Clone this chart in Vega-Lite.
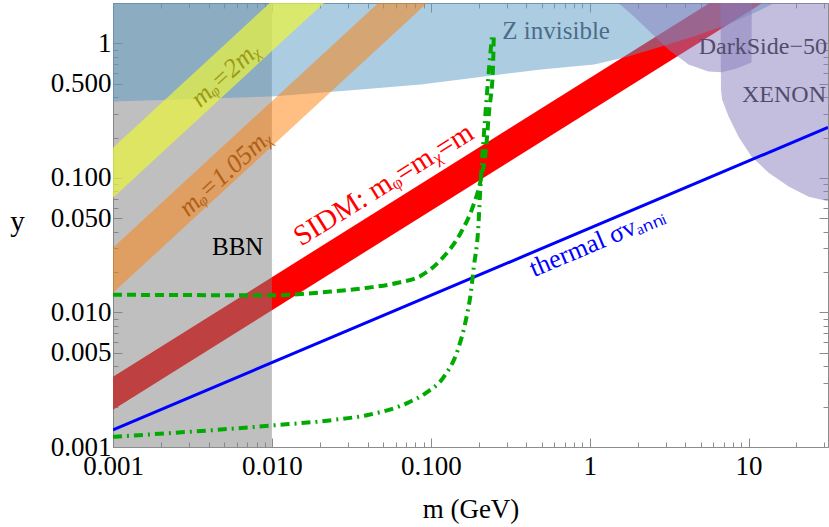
{
  "$schema": "https://vega.github.io/schema/vega-lite/v6.json",
  "width": 715,
  "height": 444,
  "autosize": {"type": "none"},
  "padding": {"left": 113, "top": 3, "right": 1, "bottom": 80},
  "background": "white",
  "config": {
    "view": {"stroke": "#8c8c8c", "strokeWidth": 1},
    "font": "Liberation Serif"
  },
  "datasets": {
    "red": [{"m": 0.001, "lo": 0.00189, "hi": 0.00333}, {"m": 31.6, "lo": 4.04, "hi": 7.12}],
    "orange": [{"m": 0.001, "lo": 0.014, "hi": 0.0303}, {"m": 1, "lo": 26.1, "hi": 56.4}],
    "yellow": [{"m": 0.001, "lo": 0.0714, "hi": 0.168}, {"m": 0.1, "lo": 10.8, "hi": 25.4}],
    "thermal": [{"m": 0.001, "y": 0.00134}, {"m": 31.6, "y": 0.238}],
    "bbn": [{"m_min": 0.001, "m_max": 0.01}],
    "zinv": [
      {"m": 0.001, "y": 0.371}, {"m": 0.01, "y": 0.404}, {"m": 0.0361, "y": 0.455},
      {"m": 0.0865, "y": 0.495}, {"m": 0.494, "y": 0.641}, {"m": 1.067, "y": 0.698},
      {"m": 1.75, "y": 0.8}, {"m": 2.83, "y": 0.95}, {"m": 4.56, "y": 1.13},
      {"m": 7.48, "y": 1.39}, {"m": 12.08, "y": 1.79}, {"m": 14.6, "y": 2.0}
    ],
    "detect": [
      {"name": "DarkSide", "m": 1.513, "y": 2.0}, {"name": "DarkSide", "m": 1.6, "y": 1.89},
      {"name": "DarkSide", "m": 1.83, "y": 1.65}, {"name": "DarkSide", "m": 2.21, "y": 1.34},
      {"name": "DarkSide", "m": 3.13, "y": 0.904}, {"name": "DarkSide", "m": 4.18, "y": 0.698},
      {"name": "DarkSide", "m": 5.59, "y": 0.619}, {"name": "DarkSide", "m": 6.76, "y": 0.61},
      {"name": "DarkSide", "m": 8.4, "y": 0.653}, {"name": "DarkSide", "m": 10.44, "y": 0.722},
      {"name": "DarkSide", "m": 10.47, "y": 2.0},
      {"name": "XENON", "m": 6.66, "y": 2.0}, {"name": "XENON", "m": 6.7, "y": 0.455},
      {"name": "XENON", "m": 6.81, "y": 0.384}, {"name": "XENON", "m": 7.48, "y": 0.286},
      {"name": "XENON", "m": 8.65, "y": 0.203}, {"name": "XENON", "m": 10.44, "y": 0.144},
      {"name": "XENON", "m": 13.37, "y": 0.1096}, {"name": "XENON", "m": 17.87, "y": 0.0863},
      {"name": "XENON", "m": 23.9, "y": 0.0726}, {"name": "XENON", "m": 32.4, "y": 0.0667}
    ],
    "dashed": [
      {"m": 0.001, "y": 0.01355}, {"m": 0.01, "y": 0.01343}, {"m": 0.0234, "y": 0.01432},
      {"m": 0.0401, "y": 0.01528}, {"m": 0.062, "y": 0.01663}, {"m": 0.0865, "y": 0.01875},
      {"m": 0.1156, "y": 0.02466}, {"m": 0.1545, "y": 0.0392}, {"m": 0.184, "y": 0.0612},
      {"m": 0.2065, "y": 0.0973}, {"m": 0.2223, "y": 0.1626}, {"m": 0.2323, "y": 0.307},
      {"m": 0.246, "y": 0.641}, {"m": 0.249, "y": 1.13}
    ],
    "dashdot": [
      {"m": 0.001, "y": 0.00119}, {"m": 0.01, "y": 0.001445}, {"m": 0.0244, "y": 0.00159},
      {"m": 0.0401, "y": 0.00173}, {"m": 0.0716, "y": 0.00213}, {"m": 0.0929, "y": 0.00252},
      {"m": 0.1208, "y": 0.00332}, {"m": 0.1479, "y": 0.00527}, {"m": 0.1664, "y": 0.00883},
      {"m": 0.1786, "y": 0.01403}, {"m": 0.1866, "y": 0.0219}, {"m": 0.198, "y": 0.0392},
      {"m": 0.2065, "y": 0.0973}, {"m": 0.2193, "y": 0.272}, {"m": 0.2323, "y": 0.641},
      {"m": 0.2427, "y": 1.13}
    ],
    "labels": [
      {"id": "zinv", "text": "Z invisible", "m": 0.615, "y": 1.23},
      {"id": "det", "text": "DarkSide−50", "m": 12.3, "y": 0.935},
      {"id": "det", "text": "XENON", "m": 16.7, "y": 0.411},
      {"id": "bbn", "text": "BBN", "m": 0.00609, "y": 0.0308},
      {"id": "sidm", "text": "SIDM: mᵩ=mᵪ=m", "m": 0.0504, "y": 0.0893},
      {"id": "y2", "text": "mᵩ=2mᵪ", "m": 0.0051, "y": 0.589},
      {"id": "o105", "text": "mᵩ=1.05mᵪ", "m": 0.0051, "y": 0.1096},
      {"id": "th", "text": "thermal σvₐₙₙᵢ", "m": 1.115, "y": 0.0336}
    ]
  },
  "layer": [
    {
      "data": {"name": "red"},
      "mark": {"type": "area", "color": "#ff0000", "clip": true},
      "encoding": {
        "x": {
          "field": "m", "type": "quantitative",
          "scale": {"type": "log", "domain": [0.001, 31.6], "nice": false},
          "axis": {
            "orient": "bottom",
            "values": [0.001,0.01,0.1,1,10],
            "labelExpr": "datum.value < 1 ? format(datum.value, '.3f') : format(datum.value, 'd')",
            "domain": false, "grid": false,
            "tickOpacity": 0, "tickSize": -5,
            "labelFont": "Liberation Serif", "labelFontSize": 27, "labelColor": "#000000",
            "labelPadding": 11, "labelFlush": false, "labelOverlap": false, "labelBound": false,
            "title": "m (GeV)", "titleFont": "Liberation Serif", "titleFontSize": 27,
            "titleFontWeight": "normal", "titleColor": "#000000", "titleY": 70, "titleBaseline": "alphabetic"
          }
        },
        "y": {
          "field": "lo", "type": "quantitative",
          "scale": {"type": "log", "domain": [0.001, 2], "nice": false},
          "axis": {
            "orient": "left",
            "values": [0.001,0.005,0.01,0.05,0.1,0.5,1],
            "labelExpr": "datum.value < 1 ? format(datum.value, '.3f') : format(datum.value, 'd')",
            "domain": false, "grid": false,
            "tickOpacity": 0, "tickSize": -5,
            "labelFont": "Liberation Serif", "labelFontSize": 27, "labelColor": "#000000",
            "labelPadding": 7, "labelFlush": false, "labelOverlap": false, "labelBound": false,
            "title": "y", "titleFont": "Liberation Serif", "titleFontSize": 29,
            "titleFontWeight": "normal", "titleColor": "#000000", "titleAngle": 0,
            "titleX": -96, "titleY": 227, "titleAlign": "center", "titleBaseline": "alphabetic"
          }
        },
        "y2": {"field": "hi"}
      }
    },
    {
      "data": {"name": "bbn"},
      "mark": {"type": "rect", "color": "#7f7f7f", "opacity": 0.5, "clip": true},
      "encoding": {
        "x": {
          "field": "m_min", "type": "quantitative",
          "scale": {"type": "log", "domain": [0.001, 31.6], "nice": false},
          "axis": {"orient": "top", "values": [0.001,0.01,0.1,1,10], "labels": false, "domain": false, "grid": false, "title": null, "tickColor": "#8c8c8c", "tickSize": -9}
        },
        "x2": {"field": "m_max"},
        "y": {
          "datum": 0.001, "type": "quantitative",
          "scale": {"type": "log", "domain": [0.001, 2], "nice": false},
          "axis": {"orient": "right", "values": [0.001,0.005,0.01,0.05,0.1,0.5,1], "labels": false, "domain": false, "grid": false, "title": null, "tickColor": "#8c8c8c", "tickSize": -9}
        },
        "y2": {"datum": 2}
      }
    },
    {
      "data": {"name": "zinv"},
      "mark": {"type": "area", "color": "#5999c5", "opacity": 0.5, "clip": true},
      "encoding": {
        "x": {
          "field": "m", "type": "quantitative", "scale": {"type": "log", "domain": [0.001, 31.6], "nice": false},
          "axis": {"orient": "top", "values": [0.002,0.003,0.004,0.005,0.006,0.007,0.008,0.009,0.02,0.03,0.04,0.05,0.06,0.07,0.08,0.09,0.2,0.3,0.4,0.5,0.6,0.7,0.8,0.9,2,3,4,5,6,7,8,9,20,30], "labels": false, "domain": false, "grid": false, "title": null, "tickColor": "#8c8c8c", "tickSize": -5}
        },
        "y": {
          "field": "y", "type": "quantitative", "scale": {"type": "log", "domain": [0.001, 2], "nice": false},
          "axis": {"orient": "right", "values": [0.002,0.003,0.004,0.006,0.007,0.008,0.009,0.02,0.03,0.04,0.06,0.07,0.08,0.09,0.2,0.3,0.4,0.6,0.7,0.8,0.9,2], "labels": false, "domain": false, "grid": false, "title": null, "tickColor": "#8c8c8c", "tickSize": -5}
        },
        "y2": {"datum": 2}
      }
    },
    {
      "data": {"name": "detect"},
      "mark": {"type": "area", "color": "#877dbb", "opacity": 0.5, "clip": true},
      "encoding": {
        "detail": {"field": "name"},
        "x": {
          "field": "m", "type": "quantitative", "scale": {"type": "log", "domain": [0.001, 31.6], "nice": false},
          "axis": {"orient": "bottom", "values": [0.001,0.01,0.1,1,10], "labels": false, "domain": false, "grid": false, "title": null, "tickColor": "#8c8c8c", "tickSize": -9}
        },
        "y": {
          "field": "y", "type": "quantitative", "scale": {"type": "log", "domain": [0.001, 2], "nice": false},
          "axis": {"orient": "left", "values": [0.001,0.005,0.01,0.05,0.1,0.5,1], "labels": false, "domain": false, "grid": false, "title": null, "tickColor": "#8c8c8c", "tickSize": -9}
        },
        "y2": {"datum": 2}
      }
    },
    {
      "data": {"name": "orange"},
      "mark": {"type": "area", "color": "#ff7d05", "opacity": 0.5, "clip": true},
      "encoding": {
        "x": {
          "field": "m", "type": "quantitative", "scale": {"type": "log", "domain": [0.001, 31.6], "nice": false},
          "axis": {"orient": "bottom", "values": [0.002,0.003,0.004,0.005,0.006,0.007,0.008,0.009,0.02,0.03,0.04,0.05,0.06,0.07,0.08,0.09,0.2,0.3,0.4,0.5,0.6,0.7,0.8,0.9,2,3,4,5,6,7,8,9,20,30], "labels": false, "domain": false, "grid": false, "title": null, "tickColor": "#8c8c8c", "tickSize": -5}
        },
        "y": {
          "field": "lo", "type": "quantitative", "scale": {"type": "log", "domain": [0.001, 2], "nice": false},
          "axis": {"orient": "left", "values": [0.002,0.003,0.004,0.006,0.007,0.008,0.009,0.02,0.03,0.04,0.06,0.07,0.08,0.09,0.2,0.3,0.4,0.6,0.7,0.8,0.9,2], "labels": false, "domain": false, "grid": false, "title": null, "tickColor": "#8c8c8c", "tickSize": -5}
        },
        "y2": {"field": "hi"}
      }
    },
    {
      "data": {"name": "yellow"},
      "mark": {"type": "area", "color": "#ebf53c", "opacity": 0.7, "clip": true},
      "encoding": {
        "x": {"field": "m", "type": "quantitative", "scale": {"type": "log", "domain": [0.001, 31.6], "nice": false}, "axis": null},
        "y": {"field": "lo", "type": "quantitative", "scale": {"type": "log", "domain": [0.001, 2], "nice": false}, "axis": null},
        "y2": {"field": "hi"}
      }
    },
    {
      "data": {"name": "thermal"},
      "mark": {"type": "line", "color": "#0000ff", "strokeWidth": 3, "clip": true},
      "encoding": {
        "x": {"field": "m", "type": "quantitative", "scale": {"type": "log", "domain": [0.001, 31.6], "nice": false}, "axis": null},
        "y": {"field": "y", "type": "quantitative", "scale": {"type": "log", "domain": [0.001, 2], "nice": false}, "axis": null}
      }
    },
    {
      "data": {"name": "dashed"},
      "mark": {"type": "line", "color": "#00aa00", "strokeWidth": 4, "strokeDash": [9, 5], "interpolate": "monotone", "clip": true},
      "encoding": {
        "x": {"field": "m", "type": "quantitative", "scale": {"type": "log", "domain": [0.001, 31.6], "nice": false}, "axis": null},
        "y": {"field": "y", "type": "quantitative", "scale": {"type": "log", "domain": [0.001, 2], "nice": false}, "axis": null}
      }
    },
    {
      "data": {"name": "dashdot"},
      "mark": {"type": "line", "color": "#00aa00", "strokeWidth": 4, "strokeDash": [9, 5, 2, 5], "interpolate": "monotone", "clip": true},
      "encoding": {
        "x": {"field": "m", "type": "quantitative", "scale": {"type": "log", "domain": [0.001, 31.6], "nice": false}, "axis": null},
        "y": {"field": "y", "type": "quantitative", "scale": {"type": "log", "domain": [0.001, 2], "nice": false}, "axis": null}
      }
    },
    {
      "data": {"name": "labels"},
      "transform": [{"filter": "datum.id == 'zinv'"}],
      "mark": {"type": "text", "font": "Liberation Serif", "fontSize": 25, "color": "#4b6c88", "align": "center", "baseline": "middle"},
      "encoding": {
        "x": {"field": "m", "type": "quantitative", "scale": {"type": "log", "domain": [0.001, 31.6], "nice": false}, "axis": null},
        "y": {"field": "y", "type": "quantitative", "scale": {"type": "log", "domain": [0.001, 2], "nice": false}, "axis": null},
        "text": {"field": "text"}
      }
    },
    {
      "data": {"name": "labels"},
      "transform": [{"filter": "datum.id == 'det'"}],
      "mark": {"type": "text", "font": "Liberation Serif", "fontSize": 24, "color": "#524c6e", "align": "center", "baseline": "middle"},
      "encoding": {
        "x": {"field": "m", "type": "quantitative", "scale": {"type": "log", "domain": [0.001, 31.6], "nice": false}, "axis": null},
        "y": {"field": "y", "type": "quantitative", "scale": {"type": "log", "domain": [0.001, 2], "nice": false}, "axis": null},
        "text": {"field": "text"}
      }
    },
    {
      "data": {"name": "labels"},
      "transform": [{"filter": "datum.id == 'bbn'"}],
      "mark": {"type": "text", "font": "Liberation Serif", "fontSize": 25, "color": "#000000", "align": "center", "baseline": "middle"},
      "encoding": {
        "x": {"field": "m", "type": "quantitative", "scale": {"type": "log", "domain": [0.001, 31.6], "nice": false}, "axis": null},
        "y": {"field": "y", "type": "quantitative", "scale": {"type": "log", "domain": [0.001, 2], "nice": false}, "axis": null},
        "text": {"field": "text"}
      }
    },
    {
      "data": {"name": "labels"},
      "transform": [{"filter": "datum.id == 'sidm'"}],
      "mark": {"type": "text", "font": "Liberation Serif", "fontSize": 29, "color": "#ff0000", "align": "center", "baseline": "middle", "angle": -32},
      "encoding": {
        "x": {"field": "m", "type": "quantitative", "scale": {"type": "log", "domain": [0.001, 31.6], "nice": false}, "axis": null},
        "y": {"field": "y", "type": "quantitative", "scale": {"type": "log", "domain": [0.001, 2], "nice": false}, "axis": null},
        "text": {"field": "text"}
      }
    },
    {
      "data": {"name": "labels"},
      "transform": [{"filter": "datum.id == 'y2'"}],
      "mark": {"type": "text", "font": "Liberation Serif", "fontSize": 26, "fontStyle": "italic", "color": "#9b9b14", "align": "center", "baseline": "middle", "angle": -42.5},
      "encoding": {
        "x": {"field": "m", "type": "quantitative", "scale": {"type": "log", "domain": [0.001, 31.6], "nice": false}, "axis": null},
        "y": {"field": "y", "type": "quantitative", "scale": {"type": "log", "domain": [0.001, 2], "nice": false}, "axis": null},
        "text": {"field": "text"}
      }
    },
    {
      "data": {"name": "labels"},
      "transform": [{"filter": "datum.id == 'o105'"}],
      "mark": {"type": "text", "font": "Liberation Serif", "fontSize": 26, "fontStyle": "italic", "color": "#b05f14", "align": "center", "baseline": "middle", "angle": -42.5},
      "encoding": {
        "x": {"field": "m", "type": "quantitative", "scale": {"type": "log", "domain": [0.001, 31.6], "nice": false}, "axis": null},
        "y": {"field": "y", "type": "quantitative", "scale": {"type": "log", "domain": [0.001, 2], "nice": false}, "axis": null},
        "text": {"field": "text"}
      }
    },
    {
      "data": {"name": "labels"},
      "transform": [{"filter": "datum.id == 'th'"}],
      "mark": {"type": "text", "font": "Liberation Serif", "fontSize": 26, "color": "#0000ff", "align": "center", "baseline": "middle", "angle": -23},
      "encoding": {
        "x": {"field": "m", "type": "quantitative", "scale": {"type": "log", "domain": [0.001, 31.6], "nice": false}, "axis": null},
        "y": {"field": "y", "type": "quantitative", "scale": {"type": "log", "domain": [0.001, 2], "nice": false}, "axis": null},
        "text": {"field": "text"}
      }
    }
  ],
  "resolve": {"axis": {"x": "independent", "y": "independent"}}
}
